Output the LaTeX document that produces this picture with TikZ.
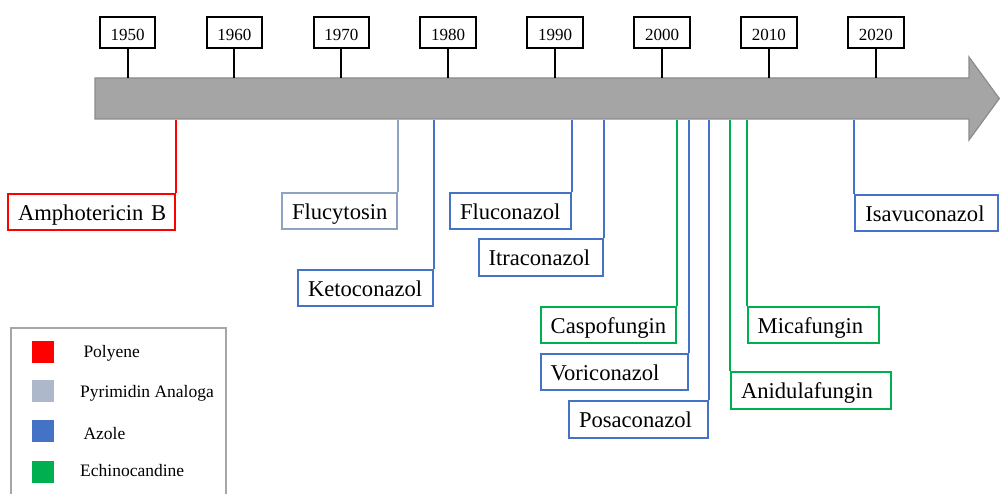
\documentclass[tikz,border=0pt]{standalone}
\usepackage{fontspec}
\setmainfont{Liberation Serif}
\definecolor{polyred}{HTML}{FF0000}
\definecolor{pyrline}{HTML}{8EA3C2}
\definecolor{pyrsq}{HTML}{ADB9CA}
\definecolor{azole}{HTML}{4472C4}
\definecolor{echino}{HTML}{00B050}
\definecolor{arrowfill}{HTML}{A5A5A5}
\definecolor{arrowdraw}{HTML}{8C8C8C}
\definecolor{legdraw}{HTML}{A6A6A6}
\begin{document}
\begin{tikzpicture}[x=1pt,y=-1pt,
  yearbox/.style={draw=black, line width=2pt, fill=white, minimum width=55.6pt, minimum height=31pt, inner sep=0pt, font=\fontsize{17}{19}\selectfont, text height=17pt, text depth=0pt},
  tick/.style={draw=black, line width=2pt},
  drugbox/.style 2 args={draw=#1, line width=2pt, fill=white, minimum height=36.5pt, inner xsep=10pt, inner ysep=0pt, text width=#2-20pt, align=left, font=\fontsize{22.6}{26}\selectfont, text height=16.4pt, text depth=0pt},
  conn/.style={draw=#1, line width=2pt},
  legsq/.style={minimum size=21.7pt, inner sep=0pt},
  legtxt/.style={anchor=base west, inner sep=0pt, font=\fontsize{17.5}{20}\selectfont},
]
\useasboundingbox (0,0) rectangle (1000,494);

% timeline arrow
\draw[fill=arrowfill, draw=arrowdraw, line width=1.2pt]
  (95,78) -- (969,78) -- (969,57) -- (999.3,98.5) -- (969,140) -- (969,119) -- (95,119) -- cycle;

% year markers
\foreach \i/\yr in {0/1950,1/1960,2/1970,3/1980,4/1990,5/2000,6/2010,7/2020}{
  \node[yearbox] (y\yr) at ({127.5+106.9*\i},32.2) {\yr};
  \coordinate (ya\yr) at ({127.5+106.9*\i},78);
  \draw[tick] (y\yr.south) -- (ya\yr);
}

% attachment points on the arrow
\coordinate (a1) at (175.5,119.6);
\coordinate (a2) at (397.7,119.6);
\coordinate (a3) at (433.7,119.6);
\coordinate (a4) at (571.5,119.6);
\coordinate (a5) at (604,119.6);
\coordinate (a6) at (676.7,119.6);
\coordinate (a7) at (689.3,119.6);
\coordinate (a8) at (709.3,119.6);
\coordinate (a9) at (730,119.6);
\coordinate (a10) at (746.7,119.6);
\coordinate (a11) at (854.3,119.6);

% drug boxes
\node[drugbox={polyred}{166.5pt}, anchor=north east] (d1) at (175.5,192.7) {\mbox{Amphotericin B}};
\node[drugbox={pyrline}{114.7pt}, anchor=north east] (d2) at (397.7,191.7) {\mbox{Flucytosin}};
\node[drugbox={azole}{134.7pt}, anchor=north east] (d3) at (433.7,268.7) {\mbox{Ketoconazol}};
\node[drugbox={azole}{120.5pt}, anchor=north east] (d4) at (571.5,191.7) {\mbox{Fluconazol}};
\node[drugbox={azole}{124.5pt}, anchor=north east] (d5) at (604,238.3) {\mbox{Itraconazol}};
\node[drugbox={echino}{135pt}, anchor=north east] (d6) at (676.7,305.7) {\mbox{Caspofungin}};
\node[drugbox={azole}{147.6pt}, anchor=north east] (d7) at (689.3,352.7) {\mbox{Voriconazol}};
\node[drugbox={azole}{139.3pt}, anchor=north east] (d8) at (709.3,400) {\mbox{Posaconazol}};
\node[drugbox={echino}{160.3pt}, anchor=north west] (d9) at (730,371) {\mbox{Anidulafungin}};
\node[drugbox={echino}{131pt}, anchor=north west] (d10) at (746.7,305.7) {\mbox{Micafungin}};
\node[drugbox={azole}{142.7pt}, anchor=north west] (d11) at (854.3,194) {\mbox{Isavuconazol}};

% connectors
\draw[conn=polyred] (a1) -- (d1.north east);
\draw[conn=pyrline] (a2) -- (d2.north east);
\draw[conn=azole] (a3) -- (d3.north east);
\draw[conn=azole] (a4) -- (d4.north east);
\draw[conn=azole] (a5) -- (d5.north east);
\draw[conn=echino] (a6) -- (d6.north east);
\draw[conn=azole] (a7) -- (d7.north east);
\draw[conn=azole] (a8) -- (d8.north east);
\draw[conn=echino] (a9) -- (d9.north west);
\draw[conn=echino] (a10) -- (d10.north west);
\draw[conn=azole] (a11) -- (d11.north west);

% legend
\draw[draw=legdraw, line width=2pt] (11,496) -- (11,328.3) -- (226,328.3) -- (226,496);
\node[legsq, fill=polyred] (ls1) at (42.8,351.8) {};
\node[legsq, fill=pyrsq] (ls2) at (42.8,391) {};
\node[legsq, fill=azole] (ls3) at (42.8,431) {};
\node[legsq, fill=echino] (ls4) at (42.8,471.7) {};
\node[legtxt] (lt1) at (83.3,357.3) {Polyene};
\node[legtxt] (lt2) at (80,397.3) {Pyrimidin Analoga};
\node[legtxt] (lt3) at (83.3,439) {Azole};
\node[legtxt] (lt4) at (80,476.7) {Echinocandine};
\end{tikzpicture}
\end{document}
